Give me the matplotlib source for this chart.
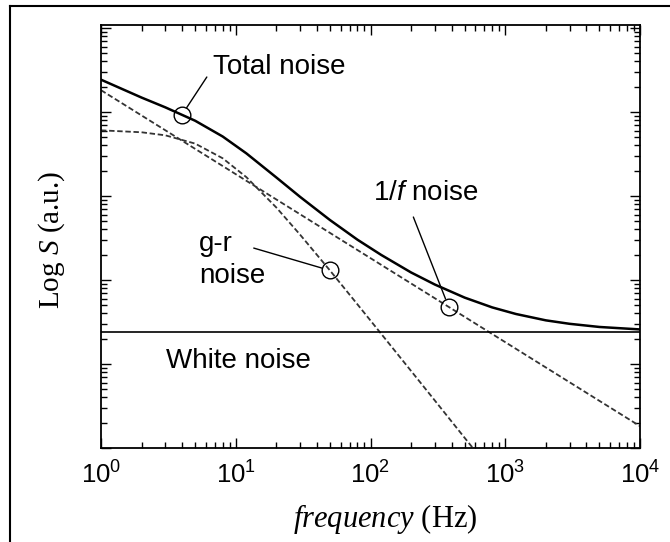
import matplotlib
matplotlib.use('Agg')
from matplotlib import pyplot as plt
from matplotlib.lines import Line2D
from matplotlib.ticker import LogLocator, NullFormatter

plt.rcParams['font.family'] = ['Liberation Sans', 'DejaVu Sans']
plt.rcParams['mathtext.fontset'] = 'custom'
plt.rcParams['mathtext.rm'] = 'Liberation Serif'
plt.rcParams['mathtext.it'] = 'Liberation Serif:italic'
plt.rcParams['mathtext.sf'] = 'Liberation Sans:italic'

# spectra (arbitrary units)
freq = [1, 2, 3, 5, 8, 12, 20, 30, 50, 80, 120, 200, 300, 500, 800,
        1200, 2000, 3000, 5000, 10000]
total_noise = [24270, 14860, 11370, 7870, 5110, 3215, 1664, 978, 518, 302,
               199, 123, 88.4, 61.7, 47.2, 39.4, 33.1, 30.1, 27.6, 25.8]

gr_freq = [1, 2, 3, 5, 8, 12, 20, 30, 50, 80, 120, 200, 300, 500, 800, 1000]
gr_noise = [6053, 5739, 5281, 4207, 2813, 1675, 730, 347, 130, 51.3, 22.9,
            8.27, 3.68, 1.32, 0.517, 0.331]

flicker_freq = [1, 10000]
flicker_noise = [18200, 1.82]

white_freq = [1, 10000]
white_noise = [24, 24]

# marked points on the curves
total_mark = (4, 9320)
gr_mark = (50, 130)
flicker_mark = (380, 48)

fig = plt.figure(figsize=(6.7, 5.42), dpi=100)
ax = fig.add_axes([101 / 670, 1 - 448 / 542, 539 / 670, 423 / 542])

dash = dict(color='#333333', lw=1.3, dashes=(3, 1.5))
ax.loglog(flicker_freq, flicker_noise, **dash)
ax.loglog(gr_freq, gr_noise, **dash)
ax.loglog(white_freq, white_noise, color='black', lw=1.2)
ax.loglog(freq, total_noise, color='black', lw=1.8)

for fx, sy in (total_mark, gr_mark, flicker_mark):
    ax.plot(fx, sy, marker='o', markersize=12, mfc='none', mec='black', mew=1)

lead = dict(arrowstyle='-', lw=1, color='black', shrinkA=0, shrinkB=6)
ax.annotate('', xy=total_mark, xytext=(6.1, 26100), arrowprops=lead)
ax.annotate('', xy=gr_mark, xytext=(13.6, 240), arrowprops=lead)
ax.annotate('', xy=flicker_mark, xytext=(208, 562), arrowprops=lead)

ax.text(6.76, 34360, 'Total noise', fontsize=20, va='center', ha='left')
ax.text(103.5, 1086, '1/$\\mathsf{f}$ noise', fontsize=20, va='center', ha='left')
ax.text(5.32, 175, 'g-r\nnoise', fontsize=20, va='center', ha='left',
        linespacing=1.3)
ax.text(3.03, 10.9, 'White noise', fontsize=20, va='center', ha='left')

ax.set_xlim(1, 1e4)
ax.set_ylim(1, 10 ** 5.036)
ax.yaxis.set_major_locator(LogLocator(base=10, numticks=10))
ax.yaxis.set_minor_locator(LogLocator(base=10, subs=range(2, 10), numticks=10))
ax.yaxis.set_major_formatter(NullFormatter())
ax.yaxis.set_minor_formatter(NullFormatter())
ax.tick_params(which='both', direction='in', top=True, right=True,
               width=1, labelsize=18.5, pad=10)
ax.tick_params(which='major', length=7)
ax.tick_params(which='minor', length=4.5)
for s in ax.spines.values():
    s.set_linewidth(1.3)

ax.set_xlabel('$\\mathit{frequency}$ (Hz)', family='Liberation Serif',
              fontsize=22)
ax.xaxis.set_label_coords(0.527, -0.128)
ax.set_ylabel('Log $\\mathit{S}$ (a.u.)', family='Liberation Serif',
              fontsize=21)
ax.yaxis.set_label_coords(-0.063, 0.492)

# outer frame (only left and top edges are visible)
fig.add_artist(Line2D([10 / 670, 10 / 670], [0, 1 - 6 / 542],
                      transform=fig.transFigure, color='black', lw=1.5))
fig.add_artist(Line2D([10 / 670, 1], [1 - 6 / 542, 1 - 6 / 542],
                      transform=fig.transFigure, color='black', lw=1.5))

fig.savefig('out.png', dpi=100)
